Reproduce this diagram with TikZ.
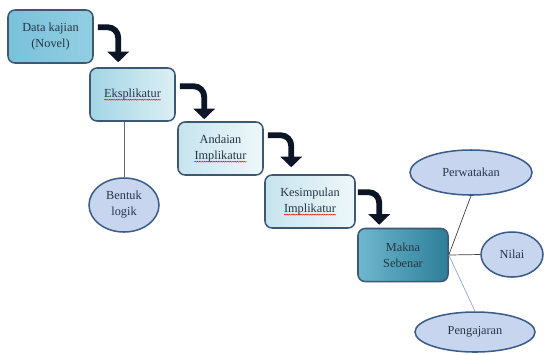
\documentclass[tikz,border=0pt]{standalone}
\usepackage{fontspec}
\setmainfont{Liberation Serif}
\usetikzlibrary{arrows.meta,shapes.geometric,decorations.pathmorphing}

\definecolor{edge}{HTML}{3E5873}
\definecolor{txt}{HTML}{263545}
\definecolor{navy}{HTML}{0B1526}
\definecolor{oval}{HTML}{C7D6EE}
\definecolor{ovaledge}{HTML}{3A5C8A}
\definecolor{tealA}{HTML}{79C1DA}
\definecolor{tealB}{HTML}{92CEE2}
\definecolor{paleA}{HTML}{A3D5E5}
\definecolor{paleB}{HTML}{DCEFF5}
\definecolor{lightA}{HTML}{C6E4EE}
\definecolor{lightB}{HTML}{EEF7FA}
\definecolor{deepA}{HTML}{6FB7CF}
\definecolor{deepB}{HTML}{2D7E98}

% red wavy spell-check line under a word
\newcommand{\salah}[1]{\tikz[baseline=(w.base), every node/.style={}]{%
  \node[shape=rectangle, draw=none, inner sep=0pt, outer sep=0pt, minimum size=0pt,
        font=\fontsize{10.5}{13.6}\selectfont, text=txt] (w) {#1};
  \draw[red, line width=0.4pt, rounded corners=0pt, decorate,
        decoration={snake, amplitude=0.45pt, segment length=2pt}]
    ([yshift=-2.2pt]w.base west) -- ([yshift=-2.2pt]w.base east);}}

\begin{document}
\begin{tikzpicture}[
    x=0.03cm, y=-0.03cm,
    every node/.style={font=\fontsize{10.5}{13.6}\selectfont, text=txt, align=center},
    box/.style={draw=edge, line width=1.3pt, rounded corners=6pt,
                minimum width=2.55cm, minimum height=1.59cm, inner sep=2pt},
    oval/.style={ellipse, draw=ovaledge, line width=1.3pt, fill=oval, inner sep=0pt},
    flow/.style={draw=navy, line width=5pt, rounded corners=9pt,
                 -{Triangle[width=18pt, length=9pt]}},
    link/.style={draw=gray!80!black, line width=0.6pt}
  ]
  \useasboundingbox (0,0) rectangle (544,354);

  % the chain of boxes
  \node[box, left color=tealA, right color=tealB] (data) at (50.5,36.5) {Data kajian\\(Novel)};
  \node[box, left color=paleA, right color=paleB] (eks) at (132.5,94.5) {\salah{Eksplikatur}};
  \node[box, left color=lightA, right color=lightB] (and) at (220.5,148.5) {Andaian\\\salah{Implikatur}};
  \node[box, minimum width=2.7cm, left color=lightA, right color=lightB] (kes) at (310,201.5) {Kesimpulan\\\salah{Implikatur}};
  \node[box, minimum width=2.7cm, left color=deepA, right color=deepB] (makna) at (403,255) {Makna\\Sebenar};

  % bent arrows between the boxes
  \draw[flow] ([shift={(4,18)}]data.north east) -| ([shift={(29,-5)}]eks.north west);
  \draw[flow] ([shift={(4,19)}]eks.north east) -| ([shift={(27,-2)}]and.north west);
  \draw[flow] ([shift={(4,14)}]and.north east) -| ([shift={(27,-7)}]kes.north west);
  \draw[flow] ([shift={(2,18)}]kes.north east) -| ([shift={(22,-3)}]makna.north west);

  % ovals
  \node[oval, minimum width=2.1cm, minimum height=1.62cm] (logik) at (124,205) {Bentuk\\logik};
  \node[oval, minimum width=3.66cm, minimum height=1.35cm] (per) at (471,172.5) {Perwatakan};
  \node[oval, minimum width=1.86cm, minimum height=1.35cm] (nilai) at (512,254.5) {Nilai};
  \node[oval, minimum width=3.6cm, minimum height=1.2cm] (ajar) at (475,332) {Pengajaran};

  \draw[link] (logik.north) -- (logik.north |- eks.south);
  \draw[link, black!75] (makna.east) -- (per.south);
  \draw[link, black!75] (makna.east) -- (nilai.west);
  \draw[link, ovaledge!55] (makna.east) -- (ajar.north);
\end{tikzpicture}
\end{document}
